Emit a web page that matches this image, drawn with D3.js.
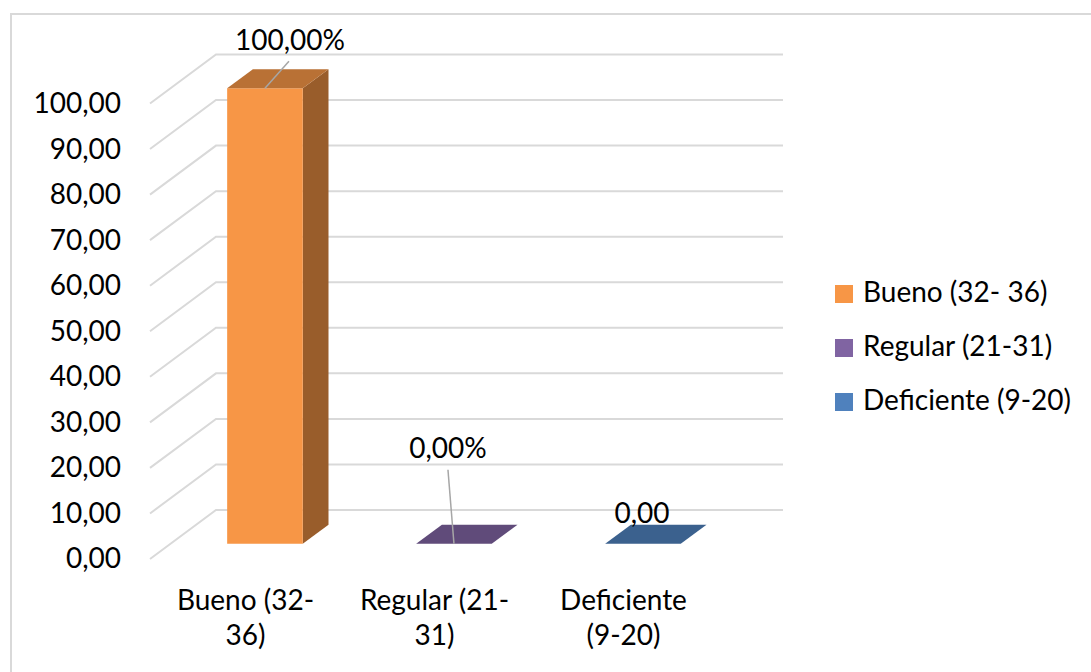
<!DOCTYPE html>
<html>
<head>
<meta charset="utf-8">
<script src="https://cdn.jsdelivr.net/npm/d3@7"></script>
<style>
  html, body { margin: 0; padding: 0; background: #fff; }
  svg { display: block; font-family: Lato, "Open Sans", sans-serif; }
</style>
</head>
<body>
<svg id="chart" width="1091" height="672"></svg>
<script>
// Categories, values and labels
const categories = ["Bueno (32- 36)", "Regular (21-31)", "Deficiente (9-20)"];
const values = [100, 0, 0];
const labelSuffixes = ["%", "%", ""];
const categoryLines = [["Bueno (32-", "36)"], ["Regular (21-", "31)"], ["Deficiente", "(9-20)"]];
const yTicks = [0, 10, 20, 30, 40, 50, 60, 70, 80, 90, 100];
const colors = ["#F79646", "#8064A2", "#4F81BD"];

const svg = d3.select("#chart");
const FONT = 28;

const locale = d3.formatLocale({ decimal: ",", thousands: ".", grouping: [3], currency: ["", ""] });
const fmt = locale.format(".2f");

// Shade a colour by multiplying its channels
const shade = (c, k) => {
  const r = d3.rgb(c);
  return d3.rgb(r.r * k, r.g * k, r.b * k).formatHex();
};

// Oblique 3D projection: depth t = 0 is the back wall, t = 1 the front edge of the floor
const DX = -66, DY = 49;
const proj = (x, y, t) => [x + DX * t, y + DY * t];

// Scales on the back wall
const x = d3.scaleBand().domain(categories).range([216, 783]).paddingInner(0.6).paddingOuter(0.3);
const y = d3.scaleLinear().domain([0, 100]).range([510, 54.5]);
const yFront = d3.scaleLinear().domain([0, 100]).range([510 + DY, 54.5 + DY]);

// Chart area border
svg.append("rect")
  .attr("x", 11).attr("y", 14).attr("width", 1200).attr("height", 800)
  .attr("fill", "#fff").attr("stroke", "#d9d9d9").attr("stroke-width", 2);

// Gridlines: side wall diagonal + back wall horizontal
const grid = svg.append("g").attr("fill", "none").attr("stroke", "#d9d9d9").attr("stroke-width", 2);
grid.selectAll("polyline").data(yTicks).join("polyline")
  .attr("points", d => {
    const f = proj(216, y(d), 1);
    return [f, [216, y(d)], [783, y(d)]].map(p => p.join(",")).join(" ");
  });

// Value axis labels
const yAxis = svg.append("g")
  .attr("transform", "translate(121,0)")
  .call(d3.axisLeft(yFront).tickValues(yTicks).tickSize(0).tickPadding(0).tickFormat(fmt));
yAxis.select(".domain").remove();
yAxis.selectAll("text")
  .attr("font-family", "Lato, sans-serif").attr("font-size", FONT).attr("fill", "#000");

// 3D columns
const T0 = 0.3, T1 = 0.69;
const poly = pts => pts.map(p => p.join(",")).join(" ");
const bars = svg.append("g");
categories.forEach((c, i) => {
  const top = shade(colors[i], 0.75);
  const side = shade(colors[i], 0.62);
  const x0 = x(c), x1 = x(c) + x.bandwidth();
  const yb = y(0), yt = y(values[i]);
  const g = bars.append("g");
  if (values[i] > 0) {
    // right side face
    g.append("polygon").attr("fill", side)
      .attr("points", poly([proj(x1, yt, T1), proj(x1, yt, T0), proj(x1, yb, T0), proj(x1, yb, T1)]));
    // front face
    g.append("polygon").attr("fill", colors[i])
      .attr("points", poly([proj(x0, yt, T1), proj(x1, yt, T1), proj(x1, yb, T1), proj(x0, yb, T1)]));
  }
  // top face
  g.append("polygon").attr("fill", top)
    .attr("points", poly([proj(x0, yt, T1), proj(x1, yt, T1), proj(x1, yt, T0), proj(x0, yt, T0)]));
});

// Data labels with leader lines (label offsets from the anchor on the front top edge)
const labelOffsets = [[25, -38], [-6, -86], [-1, -21]];
const leader = [true, true, false];
const labels = svg.append("g");
categories.forEach((c, i) => {
  const a = proj(x(c) + x.bandwidth() / 2, y(values[i]), T1);
  const lx = a[0] + labelOffsets[i][0], ly = a[1] + labelOffsets[i][1];
  if (leader[i]) {
    labels.append("line")
      .attr("x1", a[0]).attr("y1", a[1])
      .attr("x2", lx + (i === 0 ? -1 : 0)).attr("y2", ly + (i === 0 ? 11 : 12))
      .attr("stroke", "#a6a6a6").attr("stroke-width", 1.5);
  }
  labels.append("text")
    .attr("x", lx).attr("y", ly)
    .attr("text-anchor", "middle")
    .attr("font-size", FONT).attr("fill", "#000")
    .text(fmt(values[i]) + labelSuffixes[i]);
});

// Category axis labels
const catG = svg.append("g");
categories.forEach((c, i) => {
  const cx = proj(x(c) + x.bandwidth() / 2, 0, 1)[0] + 1;
  const t = catG.append("text")
    .attr("text-anchor", "middle").attr("font-size", FONT).attr("fill", "#000");
  categoryLines[i].forEach((line, j) => {
    t.append("tspan").attr("x", cx).attr("y", 610 + j * 35).text(line);
  });
});

// Legend
const legend = svg.append("g").attr("transform", "translate(835,285)");
const items = legend.selectAll("g").data(categories).join("g")
  .attr("transform", (d, i) => `translate(0,${i * 54})`);
items.append("rect").attr("width", 18).attr("height", 18).attr("fill", (d, i) => colors[i]);
items.append("text")
  .attr("x", 28).attr("y", 17)
  .attr("font-size", FONT).attr("fill", "#000")
  .text(d => d);
</script>
</body>
</html>
